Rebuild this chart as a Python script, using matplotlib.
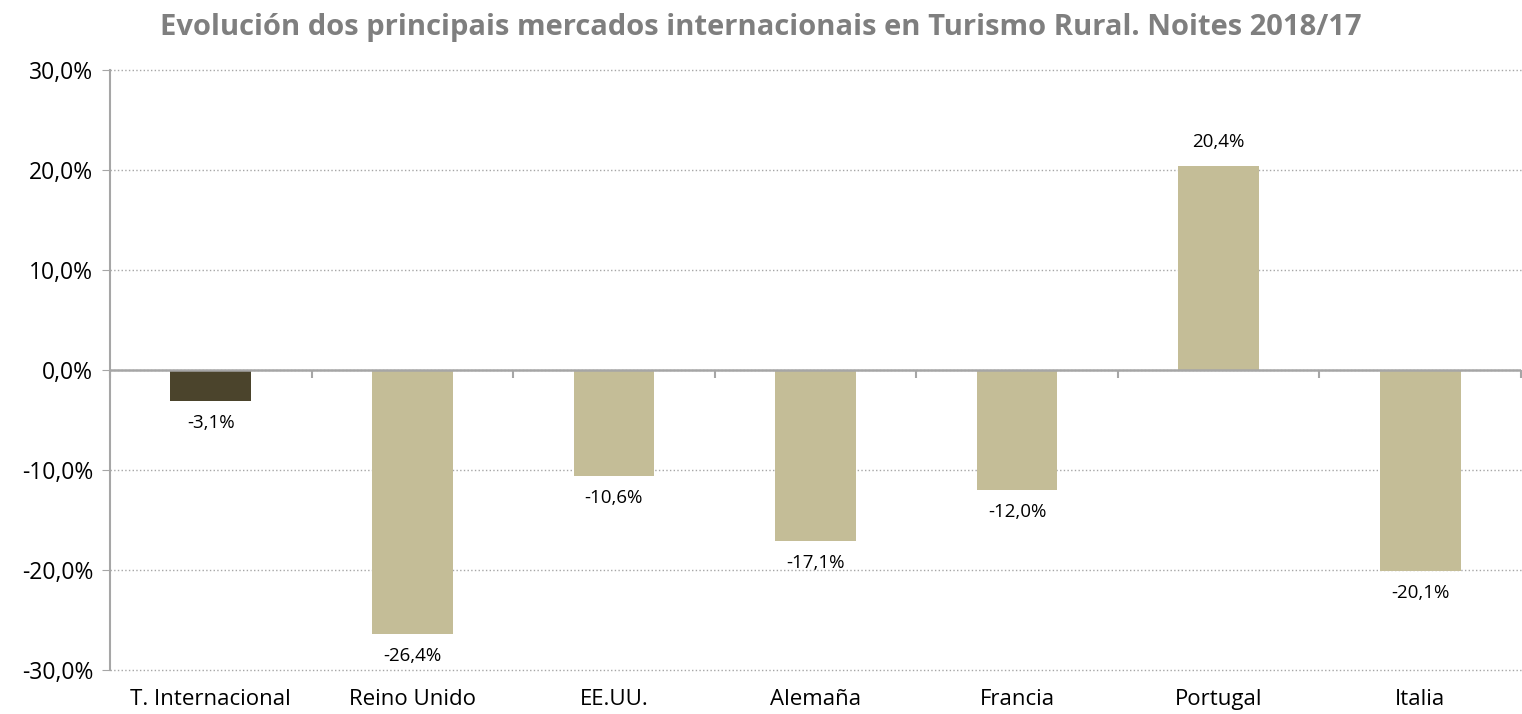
import matplotlib.pyplot as plt
from matplotlib.ticker import FuncFormatter

categories = ['T. Internacional', 'Reino Unido', 'EE.UU.', 'Alemaña', 'Francia', 'Portugal', 'Italia']
values = [-3.1, -26.4, -10.6, -17.1, -12.0, 20.4, -20.1]
bar_colors = ['#4B442C', '#C4BD97', '#C4BD97', '#C4BD97', '#C4BD97', '#C4BD97', '#C4BD97']
y_ticks = [-30, -20, -10, 0, 10, 20, 30]


def pct(v, pos=None):
    return f'{v:.1f}%'.replace('.', ',')


def main():
    plt.rcParams['font.family'] = ['Open Sans', 'DejaVu Sans']
    fig = plt.figure(figsize=(15.22, 7.14), dpi=100)
    ax = fig.add_axes([110 / 1522, 44 / 714, 1411 / 1522, 600 / 714])

    x = list(range(len(categories)))
    ax.bar(x, values, width=0.4, color=bar_colors, zorder=3)

    for xi, v in zip(x, values):
        off = 17 if v > 0 else -16
        ax.annotate(pct(v), (xi, v), xytext=(0, off), textcoords='offset points',
                    ha='center', va='center', fontsize=13.5, color='#000000', zorder=4)

    ax.set_xlim(-0.5, len(categories) - 0.5)
    ax.set_ylim(-30, 30)
    ax.set_yticks(y_ticks)
    ax.yaxis.set_major_formatter(FuncFormatter(pct))
    ax.tick_params(axis='y', length=6, color='#A6A6A6', labelsize=16.5, pad=6)
    ax.set_xticks(x)
    ax.set_xticklabels(categories)
    ax.tick_params(axis='x', length=0, labelsize=16, pad=14)

    ax.grid(axis='y', linestyle=':', color='#A6A6A6', linewidth=1.0, zorder=0)
    for gl in ax.get_ygridlines():
        gl.set_clip_on(False)
    for s in ['top', 'right', 'bottom']:
        ax.spines[s].set_visible(False)
    ax.spines['left'].set_color('#A6A6A6')
    ax.spines['left'].set_linewidth(1.5)

    # zero line with category separators hanging below it
    ax.axhline(0, color='#A6A6A6', linewidth=1.8, zorder=5)
    bounds = [i - 0.5 for i in range(len(categories) + 1)]
    ax.vlines(bounds, -0.8, 0, color='#A6A6A6', linewidth=1.5, zorder=5, clip_on=False)

    fig.text(0.5, 1 - 27 / 714, 'Evolución dos principais mercados internacionais en Turismo Rural. Noites 2018/17',
             ha='center', va='center', fontsize=21, fontweight='bold', color='#7F7F7F')

    fig.savefig('out.png', dpi=100)


if __name__ == '__main__':
    main()
